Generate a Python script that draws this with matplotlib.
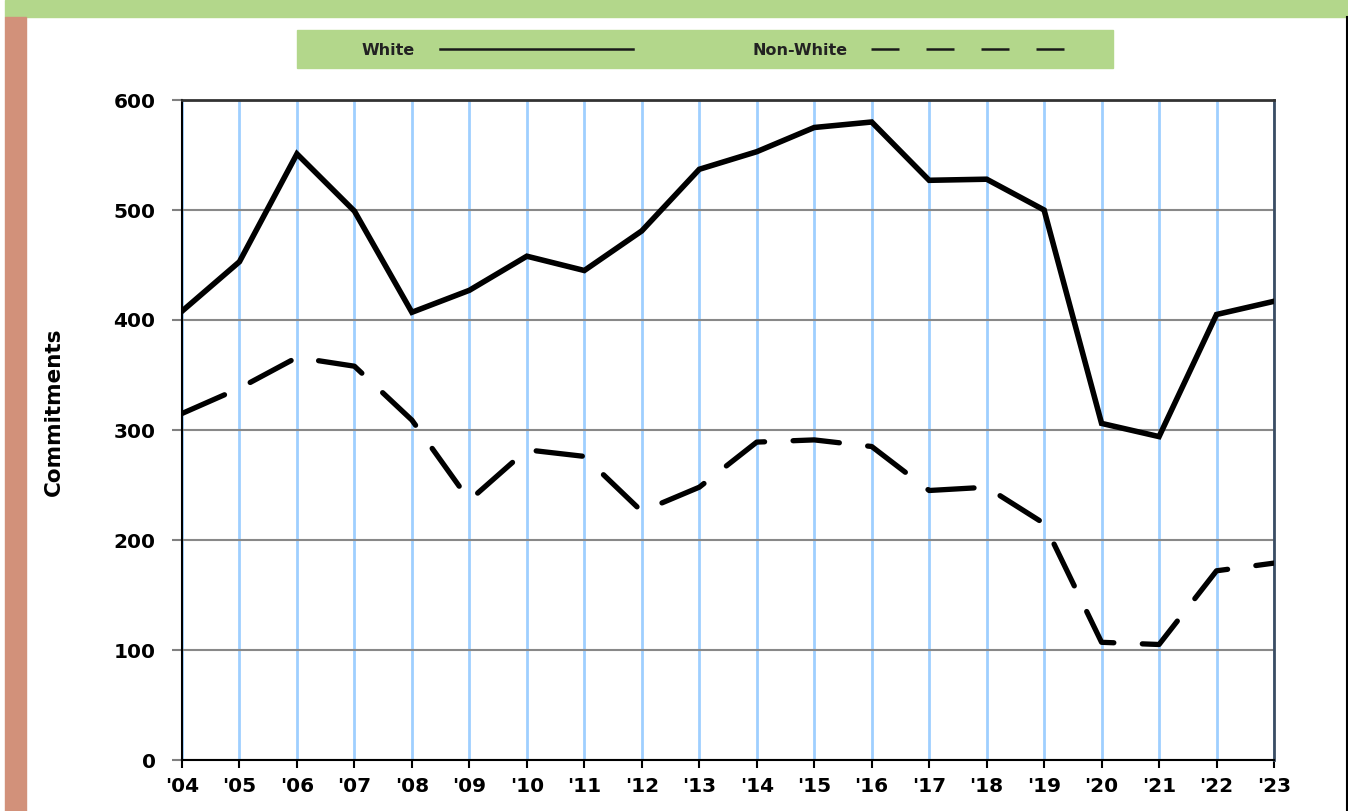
import numpy as np
import matplotlib.pyplot as plt
from matplotlib.patches import Rectangle
from matplotlib.lines import Line2D

years = ["'04", "'05", "'06", "'07", "'08", "'09", "'10", "'11", "'12", "'13",
         "'14", "'15", "'16", "'17", "'18", "'19", "'20", "'21", "'22", "'23"]
white = [408, 453, 551, 499, 407, 427, 458, 445, 481, 537,
         553, 575, 580, 527, 528, 500, 306, 294, 405, 417]
non_white = [315, 338, 366, 358, 309, 236, 282, 276, 226, 248,
             289, 291, 285, 245, 248, 215, 107, 105, 172, 179]
y_ticks = [0, 100, 200, 300, 400, 500, 600]

W, H = 1348, 811
green = '#b3d78b'
brown = '#d2917a'

fig = plt.figure(figsize=(W / 100, H / 100), dpi=100)

# frame decorations
fig.patches.append(Rectangle((5 / W, 1 - 17 / H), 1343 / W, 17 / H,
                             transform=fig.transFigure, color=green, zorder=0))
fig.patches.append(Rectangle((5 / W, 0), 21 / W, 1 - 17 / H,
                             transform=fig.transFigure, color=brown, zorder=0))
fig.lines.append(Line2D([1346.5 / W, 1346.5 / W], [0, 1 - 17 / H],
                        transform=fig.transFigure, color='black', lw=1.5))

ax = fig.add_axes([182 / W, 51 / H, 1092 / W, 660 / H])
x = np.arange(len(years))

ax.plot(x, white, color='black', lw=4.0, solid_joinstyle='miter', zorder=3)
ax.plot(x, non_white, color='black', lw=3.8, dashes=(8.8, 5.4),
        dash_capstyle='round', zorder=3)

ax.set_xlim(0, len(years) - 1)
ax.set_ylim(0, 600)
ax.set_xticks(x, labels=years)
ax.set_yticks(y_ticks)

ax.set_axisbelow(True)
ax.yaxis.grid(True, color='#888888', lw=1.5)
ax.xaxis.grid(True, color='#9fcfff', lw=2)

ax.tick_params(axis='y', length=7, width=1.5, color='#808080', pad=12,
               labelsize=14.5)
ax.tick_params(axis='x', length=6, width=1.5, color='black', pad=6,
               labelsize=14.5)
for lab in ax.get_xticklabels() + ax.get_yticklabels():
    lab.set_fontweight('bold')

ax.spines['left'].set_color('black')
ax.spines['left'].set_linewidth(1.5)
ax.spines['bottom'].set_color('black')
ax.spines['bottom'].set_linewidth(1.5)
ax.spines['top'].set_color('#333333')
ax.spines['top'].set_linewidth(2)
ax.spines['right'].set_color('#3b4d63')
ax.spines['right'].set_linewidth(2)

fig.text(54 / W, 1 - 412 / H, 'Commitments', rotation=90, ha='center',
         va='center', fontsize=15.5, fontweight='bold')

# legend box
ly = 1 - 49 / H
fig.patches.append(Rectangle((297 / W, 1 - 68 / H), 816 / W, 38 / H,
                             transform=fig.transFigure, color=green, zorder=0))
fig.text(415 / W, ly, 'White', ha='right', va='center_baseline',
         fontsize=11.5, fontweight='bold', color='#222222')
fig.lines.append(Line2D([440 / W, 633 / W], [ly, ly], transform=fig.transFigure,
                        color='#1a1a1a', lw=1.8))
fig.text(848 / W, ly, 'Non-White', ha='right', va='center_baseline',
         fontsize=11.5, fontweight='bold', color='#222222')
fig.lines.append(Line2D([871 / W, 1066 / W], [ly, ly], transform=fig.transFigure,
                        color='#1a1a1a', lw=1.8, dashes=(11.2, 10.8)))

fig.savefig('out.png', dpi=100)
